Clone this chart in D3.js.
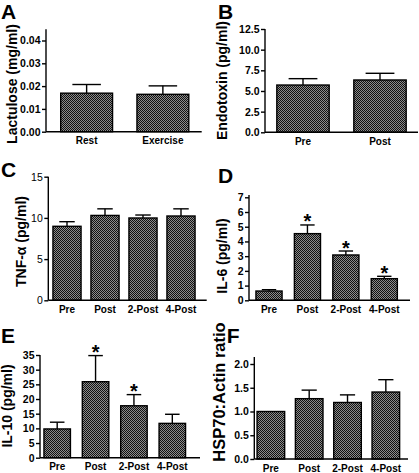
<!DOCTYPE html>
<html><head><meta charset="utf-8">
<script src="https://cdn.jsdelivr.net/npm/d3@7"></script>
<style>
html,body{margin:0;padding:0;background:#fff;}
svg{display:block;font-family:"Liberation Sans",Arial,sans-serif;}
</style></head>
<body>
<svg id="chart" width="419" height="473"></svg>
<script>
// ---- data ----
const lactCats = ["Rest", "Exercise"];
const lactMean = [0.0169, 0.0164];
const lactSem  = [0.0038, 0.0037];
const lactTicks = [0, 0.01, 0.02, 0.03, 0.04];

const endoCats = ["Pre", "Post"];
const endoMean = [5.72, 6.33];
const endoSem  = [0.77, 0.81];
const endoTicks = [0, 2.5, 5, 7.5, 10, 12.5];

const timeCats = ["Pre", "Post", "2-Post", "4-Post"];

const tnfMean = [8.98, 10.30, 9.99, 10.23];
const tnfSem  = [0.56, 0.80, 0.36, 0.87];
const tnfTicks = [0, 5, 10, 15];

const il6Mean = [0.63, 4.53, 3.08, 1.47];
const il6Sem  = [0.09, 0.59, 0.27, 0.16];
const il6Sig  = [false, true, true, true];
const il6Ticks = [0, 1, 2, 3, 4, 5, 6, 7];

const il10Mean = [9.8, 25.9, 17.7, 11.7];
const il10Sem  = [2.3, 8.9, 3.8, 3.1];
const il10Sig  = [false, true, true, false];
const il10Ticks = [0, 5, 10, 15, 20, 25, 30, 35];

const hspMean = [1.00, 1.27, 1.19, 1.41];
const hspSem  = [0.00, 0.18, 0.16, 0.26];
const hspTicks = [0, 0.5, 1.0, 1.5, 2.0];

// ---- panels ----
const panels = [
  {letter:"A", lx:1, ly:18.5, title:"Lactulose (mg/ml)", tx:11.5, ty:84, tfs:14,
   cats:lactCats, mean:lactMean, sem:lactSem, sig:null, ticks:lactTicks, fmt:d3.format(".2f"), tickBold:true,
   ax:46, bottom:131.7, top:40.5, axisTop:29.3, xr:[48.5,201], xEnd:201.7, pad:0.32},
  {letter:"B", lx:218, ly:19, title:"Endotoxin (pg/ml)", tx:221.7, ty:80.5, tfs:14,
   cats:endoCats, mean:endoMean, sem:endoSem, sig:null, ticks:endoTicks, fmt:d3.format(".1f"), tickBold:true,
   ax:265, bottom:132.3, top:29, axisTop:29, xr:[264.5,418.5], xEnd:418, pad:0.32},
  {letter:"C", lx:1, ly:176.7, title:"TNF-\u03b1 (pg/ml)", tx:20.7, ty:241.5, tfs:14,
   cats:timeCats, mean:tnfMean, sem:tnfSem, sig:null, ticks:tnfTicks, fmt:d3.format("d"), tickBold:false,
   ax:48.3, bottom:300.3, top:176.7, axisTop:176.7, xr:[48,200], xEnd:206.7, pad:0.26},
  {letter:"D", lx:218, ly:183.3, title:"IL-6 (pg/ml)", tx:221.7, ty:256, tfs:14,
   cats:timeCats, mean:il6Mean, sem:il6Sem, sig:il6Sig, ticks:il6Ticks, fmt:d3.format("d"), tickBold:true,
   ax:249, bottom:300.3, top:197.3, axisTop:195, xr:[249.8,403.5], xEnd:410, pad:0.32},
  {letter:"E", lx:1, ly:343, title:"IL-10 (pg/ml)", tx:7, ty:406, tfs:14,
   cats:timeCats, mean:il10Mean, sem:il10Sem, sig:il10Sig, ticks:il10Ticks, fmt:d3.format("d"), tickBold:true,
   ax:40, bottom:457.7, top:355, axisTop:355, xr:[38,191.5], xEnd:200, pad:0.31},
  {letter:"F", lx:226.7, ly:343, title:"HSP70:Actin ratio", tx:219, ty:392, tfs:16.5,
   cats:timeCats, mean:hspMean, sem:hspSem, sig:null, ticks:hspTicks, fmt:d3.format(".1f"), tickBold:true,
   ax:254.3, bottom:459, top:364, axisTop:357, xr:[251.7,405], xEnd:408, pad:0.28}
];

const svg = d3.select("#chart");
const defs = svg.append("defs");
const pat = defs.append("pattern").attr("id","hatch").attr("patternUnits","userSpaceOnUse")
  .attr("width",2).attr("height",2);
pat.append("rect").attr("width",2).attr("height",2).attr("fill","#8c8c8c");
pat.append("rect").attr("x",0).attr("y",0).attr("width",1).attr("height",1).attr("fill","#111");
pat.append("rect").attr("x",1).attr("y",1).attr("width",1).attr("height",1).attr("fill","#111");

panels.forEach(p => {
  const g = svg.append("g");
  const y = d3.scaleLinear().domain([0, p.ticks[p.ticks.length-1]]).range([p.bottom, p.top]);
  const x = d3.scaleBand().domain(p.cats).range(p.xr).paddingInner(p.pad).paddingOuter(p.pad/2);

  // panel letter
  g.append("text").attr("x", p.lx).attr("y", p.ly).attr("font-size", 21).attr("font-weight","bold")
    .text(p.letter);

  // y title
  g.append("text").attr("transform", `translate(${p.tx},${p.ty}) rotate(-90)`)
    .attr("text-anchor","middle").attr("dominant-baseline","central")
    .attr("font-size", p.tfs).attr("font-weight","bold").text(p.title);

  // bars
  const data = p.cats.map((c,i) => ({c, m:p.mean[i], s:p.sem[i], sig: p.sig ? p.sig[i] : false}));
  g.selectAll("rect.bar").data(data).join("rect").attr("class","bar")
    .attr("x", d => x(d.c)).attr("width", x.bandwidth())
    .attr("y", d => y(d.m)).attr("height", d => y(0) - y(d.m))
    .attr("fill","url(#hatch)").attr("stroke","#000").attr("stroke-width",1.4);

  // error bars (upper)
  const capW = x.bandwidth()*0.55;
  data.filter(d => d.s > 0).forEach(d => {
    const cx = x(d.c) + x.bandwidth()/2;
    g.append("line").attr("x1",cx).attr("x2",cx).attr("y1",y(d.m)).attr("y2",y(d.m+d.s))
      .attr("stroke","#000").attr("stroke-width",1.4);
    g.append("line").attr("x1",cx-capW/2).attr("x2",cx+capW/2).attr("y1",y(d.m+d.s)).attr("y2",y(d.m+d.s))
      .attr("stroke","#000").attr("stroke-width",1.4);
    if (d.sig) {
      g.append("text").attr("x",cx).attr("y",y(d.m+d.s)+3.5).attr("text-anchor","middle")
        .attr("font-size",20).attr("font-weight","bold").text("*");
    }
  });

  // y axis
  const yAxis = d3.axisLeft(y).tickValues(p.ticks).tickFormat(p.fmt).tickSize(4).tickPadding(1.5).tickSizeOuter(0);
  const ya = g.append("g").attr("transform",`translate(${p.ax},0)`).call(yAxis);
  ya.select(".domain").remove();
  ya.selectAll("line").attr("stroke","#000").attr("stroke-width",1.4);
  ya.selectAll("text").attr("font-size",10.5).attr("font-weight", p.tickBold ? "bold" : "normal")
    .attr("font-family","Liberation Sans, Arial, sans-serif").attr("fill","#000");
  g.append("line").attr("x1",p.ax).attr("x2",p.ax).attr("y1",p.bottom).attr("y2",p.axisTop)
    .attr("stroke","#000").attr("stroke-width",1.4);

  // x axis
  const xAxis = d3.axisBottom(x).tickSize(0).tickPadding(5.5);
  const xa = g.append("g").attr("transform",`translate(0,${p.bottom})`).call(xAxis);
  xa.select(".domain").remove();
  xa.selectAll("text").attr("font-size",10).attr("font-weight","bold")
    .attr("font-family","Liberation Sans, Arial, sans-serif").attr("fill","#000");
  g.append("line").attr("x1",p.ax).attr("x2",p.xEnd).attr("y1",p.bottom).attr("y2",p.bottom)
    .attr("stroke","#000").attr("stroke-width",1.4);
});
</script>
</body></html>
